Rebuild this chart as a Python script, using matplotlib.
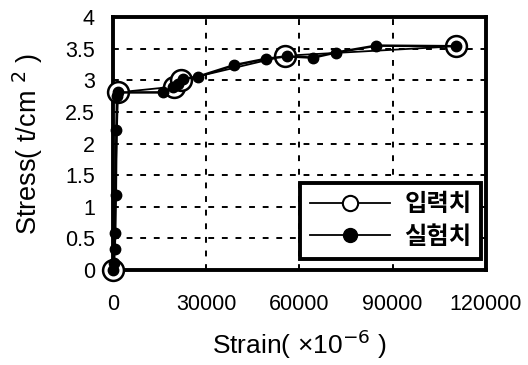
import matplotlib
matplotlib.use("Agg")
from matplotlib import pyplot as plt
from matplotlib.lines import Line2D
from matplotlib.ticker import FormatStrFormatter

# input values (open circles)
input_strain = [0, 1600, 19500, 22000, 55500, 110500]
input_stress = [0, 2.81, 2.9, 3.0, 3.39, 3.54]

# test values (filled dots)
test_strain = [0, 300, 500, 700, 900, 1100, 1300, 1500,
               16200, 19400, 21000, 22600, 27400, 38900, 49100, 55900,
               64400, 71700, 84800, 110500]
test_stress = [0, 0.11, 0.33, 0.58, 1.19, 2.22, 2.75, 2.81,
               2.81, 2.89, 2.95, 3.02, 3.06, 3.24, 3.34, 3.38,
               3.36, 3.44, 3.55, 3.54]

x_ticks = [0, 30000, 60000, 90000, 120000]
y_ticks = [0, 0.5, 1, 1.5, 2, 2.5, 3, 3.5, 4]
labels = ["입력치", "실험치"]

plt.rcParams["font.family"] = ["Liberation Sans", "Noto Sans CJK KR"]

fig = plt.figure(figsize=(5.28, 3.65), dpi=100)
ax = fig.add_axes([0.214, 0.26, 0.706, 0.693])

ax.plot(input_strain, input_stress, color="black", lw=1.3, marker="o",
        ms=15, mfc="white", mec="black", mew=1.8, zorder=3, clip_on=False)
ax.plot(test_strain, test_stress, color="black", lw=1.8, marker="o",
        ms=7.5, mfc="black", mec="black", zorder=4, clip_on=False)

ax.set_xlim(0, 120000)
ax.set_ylim(0, 4)
ax.set_xticks(x_ticks)
ax.set_yticks(y_ticks)
ax.yaxis.set_major_formatter(FormatStrFormatter("%g"))
ax.tick_params(length=0, labelsize=15.5)
ax.tick_params(axis="x", pad=17)
ax.tick_params(axis="y", pad=13)
ax.grid(True, color="black", ls=(0, (3, 4)), lw=1.4)
for s in ax.spines.values():
    s.set_linewidth(2.8)
    s.set_zorder(2.5)

ax.set_xlabel("Strain( ×10$^{-6}$ )", fontsize=19, labelpad=9)
ax.set_ylabel("Stress( t/cm $^{2}$ )", fontsize=19.5, labelpad=14)

handles = [
    Line2D([], [], color="black", lw=1.3, marker="o", ms=11,
           mfc="white", mec="black", mew=1.5),
    Line2D([], [], color="black", lw=1.3, marker="o", ms=10,
           mfc="black", mec="black"),
]
leg = ax.legend(handles, labels, loc="lower right",
                bbox_to_anchor=(0.988, 0.045),
                fontsize=17.5, frameon=True, fancybox=False,
                edgecolor="black", framealpha=1, handlelength=3.3,
                borderpad=0.4, labelspacing=0.35, handletextpad=0.6,
                borderaxespad=0)
leg.get_frame().set_linewidth(2.8)
for t in leg.get_texts():
    t.set_fontfamily("Noto Sans CJK KR")
    t.set_fontweight("bold")

fig.savefig("out.png", dpi=100)
